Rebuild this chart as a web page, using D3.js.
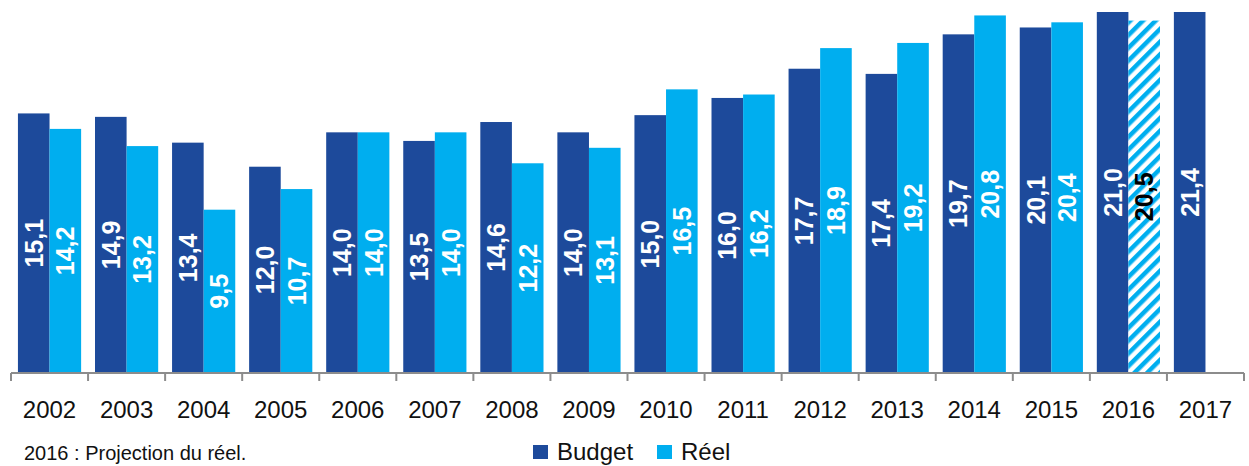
<!DOCTYPE html>
<html>
<head>
<meta charset="utf-8">
<script src="https://cdn.jsdelivr.net/npm/d3@7"></script>
<style>
  body { margin: 0; background: #fff; }
  svg { display: block; font-family: "Liberation Sans", Arial, sans-serif; }
</style>
</head>
<body>
<svg id="chart" width="1249" height="466"></svg>
<script>
// Data
const years = ["2002","2003","2004","2005","2006","2007","2008","2009","2010","2011","2012","2013","2014","2015","2016","2017"];
const budget = [15.1, 14.9, 13.4, 12.0, 14.0, 13.5, 14.6, 14.0, 15.0, 16.0, 17.7, 17.4, 19.7, 20.1, 21.0, 21.4];
const reel = [14.2, 13.2, 9.5, 10.7, 14.0, 14.0, 12.2, 13.1, 16.5, 16.2, 18.9, 19.2, 20.8, 20.4, 20.5, null];
const projectionYear = "2016";
const seriesNames = ["Budget", "Réel"];

const colors = { Budget: "#1d4a9b", "Réel": "#00aeef" };
const fmt = v => v.toFixed(1).replace(".", ",");

const svg = d3.select("#chart");

// Hatch pattern for the projected value
const defs = svg.append("defs");
const pat = defs.append("pattern")
  .attr("id", "hatch")
  .attr("patternUnits", "userSpaceOnUse")
  .attr("width", 9).attr("height", 9)
  .attr("patternTransform", "rotate(45)");
pat.append("rect").attr("width", 9).attr("height", 9).attr("fill", "#fff");
pat.append("rect").attr("width", 4.5).attr("height", 9).attr("fill", colors["Réel"]);

// Scales
const x = d3.scaleBand()
  .domain(years)
  .range([11, 1244])
  .paddingInner(0.18)
  .paddingOuter(0.09);

const xs = d3.scaleBand()
  .domain(seriesNames)
  .range([0, x.bandwidth()]);

const yBase = 373;
const y = d3.scaleLinear()
  .domain([0, 21])
  .range([yBase, 12])
  .clamp(true);

// Rows
const rows = years.map((yr, i) => ({
  year: yr,
  values: [
    { key: "Budget", v: budget[i] },
    { key: "Réel", v: reel[i] }
  ].filter(d => d.v != null)
}));

const groups = svg.append("g")
  .selectAll("g")
  .data(rows).enter()
  .append("g")
  .attr("transform", d => "translate(" + x(d.year) + ",0)");

// Bars
groups.selectAll("rect")
  .data(d => d.values.map(v => ({ ...v, year: d.year })))
  .enter()
  .append("rect")
  .attr("x", d => xs(d.key))
  .attr("y", d => y(d.v))
  .attr("width", xs.bandwidth())
  .attr("height", d => yBase - y(d.v))
  .attr("fill", d => (d.key === "Réel" && d.year === projectionYear) ? "url(#hatch)" : colors[d.key]);

// Value labels
groups.selectAll("text")
  .data(d => d.values.map(v => ({ ...v, year: d.year })))
  .enter()
  .append("text")
  .attr("transform", d => {
    const cx = xs(d.key) + xs.bandwidth() / 2;
    const cy = (y(d.v) + yBase) / 2;
    return "translate(" + cx + "," + cy + ") rotate(-90)";
  })
  .attr("text-anchor", "middle")
  .attr("dy", "0.36em")
  .attr("font-size", 25)
  .attr("font-weight", "bold")
  .attr("fill", d => (d.key === "Réel" && d.year === projectionYear) ? "#000" : "#fff")
  .text(d => fmt(d.v));

// X axis
const axis = svg.append("g");
axis.append("line")
  .attr("x1", 11).attr("x2", 1244)
  .attr("y1", yBase).attr("y2", yBase)
  .attr("stroke", "#8c8c8c").attr("stroke-width", 2);

const edges = years.map(yr => x(yr) - x.step() * x.paddingInner() / 2);
edges.push(1244);
axis.selectAll(".tick")
  .data(edges).enter()
  .append("line")
  .attr("x1", d => d).attr("x2", d => d)
  .attr("y1", yBase).attr("y2", yBase + 8)
  .attr("stroke", "#8c8c8c").attr("stroke-width", 2);

axis.selectAll(".yr")
  .data(years).enter()
  .append("text")
  .attr("x", d => x(d) + x.bandwidth() / 2)
  .attr("y", 418)
  .attr("text-anchor", "middle")
  .attr("font-size", 24)
  .attr("fill", "#111")
  .text(d => d);

// Legend
const legend = svg.append("g");
const legendItems = [
  { key: "Budget", x: 533 },
  { key: "Réel", x: 657 }
];
legendItems.forEach(it => {
  legend.append("rect")
    .attr("x", it.x).attr("y", 445)
    .attr("width", 15).attr("height", 14)
    .attr("fill", colors[it.key]);
  legend.append("text")
    .attr("x", it.x + 24).attr("y", 460)
    .attr("font-size", 24)
    .attr("fill", "#111")
    .text(it.key);
});

// Footnote
svg.append("text")
  .attr("x", 24).attr("y", 460)
  .attr("font-size", 20)
  .attr("fill", "#111")
  .text("2016 : Projection du réel.");
</script>
</body>
</html>
